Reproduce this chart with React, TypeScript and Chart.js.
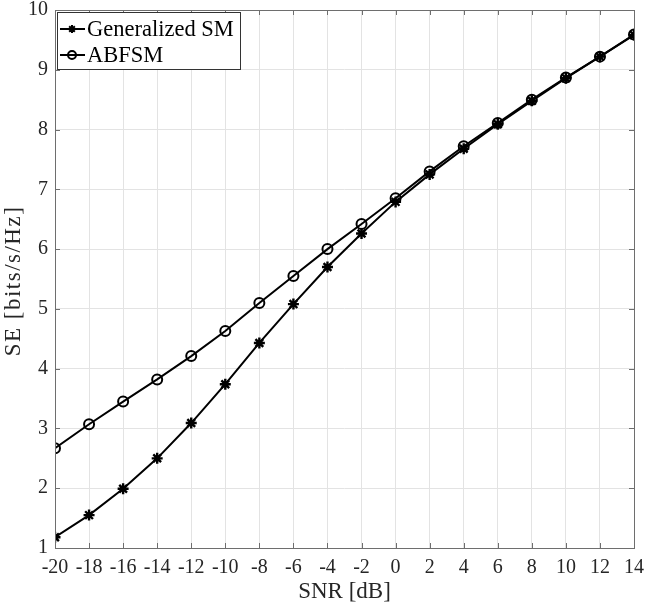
import React, { useEffect, useRef } from 'react';
import { Chart, registerables } from 'chart.js';

Chart.register(...registerables);

const snrDb = [-20, -18, -16, -14, -12, -10, -8, -6, -4, -2, 0, 2, 4, 6, 8, 10, 12, 14];
const generalizedSM = [1.18, 1.55, 1.99, 2.5, 3.09, 3.74, 4.43, 5.08, 5.7, 6.26, 6.79, 7.25, 7.68, 8.09, 8.48, 8.86, 9.22, 9.58];
const abfsm = [2.67, 3.07, 3.45, 3.82, 4.21, 4.63, 5.1, 5.55, 6.0, 6.42, 6.85, 7.3, 7.72, 8.11, 8.5, 8.87, 9.22, 9.59];
const seriesLabels = ['Generalized SM', 'ABFSM'];
const xTitle = 'SNR [dB]';
const yTitle = 'SE [bits/s/Hz]';

const FONT = "'Liberation Serif', 'Times New Roman', serif";
const TEXT = '#262626';

function drawMarker(ctx: CanvasRenderingContext2D, style: string, x: number, y: number, r: number) {
  ctx.beginPath();
  if (style === 'circle') {
    ctx.arc(x, y, r, 0, Math.PI * 2);
  } else {
    for (let i = 0; i < 4; i++) {
      const a = (i * Math.PI) / 4;
      ctx.moveTo(x - Math.cos(a) * r, y - Math.sin(a) * r);
      ctx.lineTo(x + Math.cos(a) * r, y + Math.sin(a) * r);
    }
  }
  ctx.stroke();
}

const boxPlugin = {
  id: 'matlabBox',
  afterDatasetsDraw(chart: any) {
    const { ctx, chartArea } = chart;
    const { left, right, top, bottom } = chartArea;
    ctx.save();
    ctx.strokeStyle = '#6e6e6e';
    ctx.lineWidth = 1;
    ctx.strokeRect(Math.round(left) + 0.5, Math.round(top) + 0.5, Math.round(right - left), Math.round(bottom - top));
    const xs = chart.scales.x;
    const ys = chart.scales.y;
    ctx.beginPath();
    xs.ticks.forEach((t: any) => {
      const px = Math.round(xs.getPixelForValue(t.value)) + 0.5;
      ctx.moveTo(px, bottom);
      ctx.lineTo(px, bottom - 5);
      ctx.moveTo(px, top);
      ctx.lineTo(px, top + 5);
    });
    ys.ticks.forEach((t: any) => {
      const py = Math.round(ys.getPixelForValue(t.value)) + 0.5;
      ctx.moveTo(left, py);
      ctx.lineTo(left + 5, py);
      ctx.moveTo(right, py);
      ctx.lineTo(right - 5, py);
    });
    ctx.stroke();

    // y-axis title
    ctx.save();
    ctx.translate(14, (top + bottom) / 2 + 2);
    ctx.rotate(-Math.PI / 2);
    ctx.fillStyle = TEXT;
    ctx.font = `23px ${FONT}`;
    (ctx as any).letterSpacing = '1.5px';
    ctx.textAlign = 'center';
    ctx.textBaseline = 'middle';
    ctx.fillText(yTitle, 0, 0);
    ctx.restore();

    // legend
    const lx = left + 2, ly = top + 2, lw = 183, lh = 57;
    ctx.fillStyle = '#ffffff';
    ctx.fillRect(lx, ly, lw, lh);
    ctx.strokeStyle = '#333333';
    ctx.lineWidth = 1;
    ctx.strokeRect(lx + 0.5, ly + 0.5, lw, lh);
    chart.data.datasets.forEach((ds: any, i: number) => {
      const cy = ly + 17 + i * 26;
      ctx.strokeStyle = '#000';
      ctx.lineWidth = 2;
      ctx.beginPath();
      ctx.moveTo(lx + 3, cy);
      ctx.lineTo(lx + 28, cy);
      ctx.stroke();
      ctx.lineWidth = 2;
      drawMarker(ctx, ds.pointStyle === 'circle' ? 'circle' : 'star', lx + 15, cy, 4);
      ctx.fillStyle = '#000';
      ctx.font = `22.5px ${FONT}`;
      ctx.textBaseline = 'middle';
      ctx.textAlign = 'left';
      ctx.fillText(ds.label, lx + 30, cy + 1);
    });
    ctx.restore();
  },
};

export default function App() {
  const ref = useRef<HTMLCanvasElement>(null);
  useEffect(() => {
    if (!ref.current) return;
    const chart = new Chart(ref.current, {
      type: 'line',
      data: {
        datasets: [
          {
            label: seriesLabels[0],
            data: snrDb.map((x, i) => ({ x, y: generalizedSM[i] })),
            borderColor: '#000',
            backgroundColor: '#000',
            borderWidth: 2,
            pointStyle: 'star',
            pointRadius: 5.5,
            pointBorderWidth: 2.4,
            pointBorderColor: '#000',
          },
          {
            label: seriesLabels[1],
            data: snrDb.map((x, i) => ({ x, y: abfsm[i] })),
            borderColor: '#000',
            backgroundColor: 'rgba(0,0,0,0)',
            borderWidth: 2,
            pointStyle: 'circle',
            pointRadius: 5,
            pointBorderWidth: 2,
            pointBorderColor: '#000',
          },
        ],
      },
      options: {
        animation: false,
        responsive: false,
        maintainAspectRatio: false,
        layout: { padding: { top: 10, right: 13, left: 0, bottom: 0 } },
        plugins: { legend: { display: false }, tooltip: { enabled: false } },
        scales: {
          x: {
            type: 'linear',
            min: -20,
            max: 14,
            afterFit: (s: any) => { s.height = 60; s.paddingLeft = 0; s.paddingRight = 0; },
            ticks: { stepSize: 2, color: TEXT, font: { family: FONT, size: 20 }, padding: 8, maxRotation: 0, autoSkip: false },
            grid: { color: '#e3e3e3', drawTicks: false },
            border: { display: false },
            title: { display: true, text: xTitle, color: TEXT, font: { family: FONT, size: 23 }, padding: { top: 0, bottom: 2 } },
          },
          y: {
            type: 'linear',
            min: 1,
            max: 10,
            afterFit: (s: any) => { s.width = 55; s.paddingTop = 0; s.paddingBottom = 0; },
            ticks: { stepSize: 1, color: TEXT, font: { family: FONT, size: 20 }, padding: 7 },
            grid: { color: '#e3e3e3', drawTicks: false },
            border: { display: false },
            title: { display: false, text: yTitle },
          },
        },
      },
      plugins: [boxPlugin],
    });
    return () => chart.destroy();
  }, []);
  return (
    <div style={{ position: 'fixed', left: 0, top: 0, width: 647, height: 608, background: '#fff' }}>
      <canvas ref={ref} width={647} height={608} style={{ width: 647, height: 608 }} />
    </div>
  );
}
